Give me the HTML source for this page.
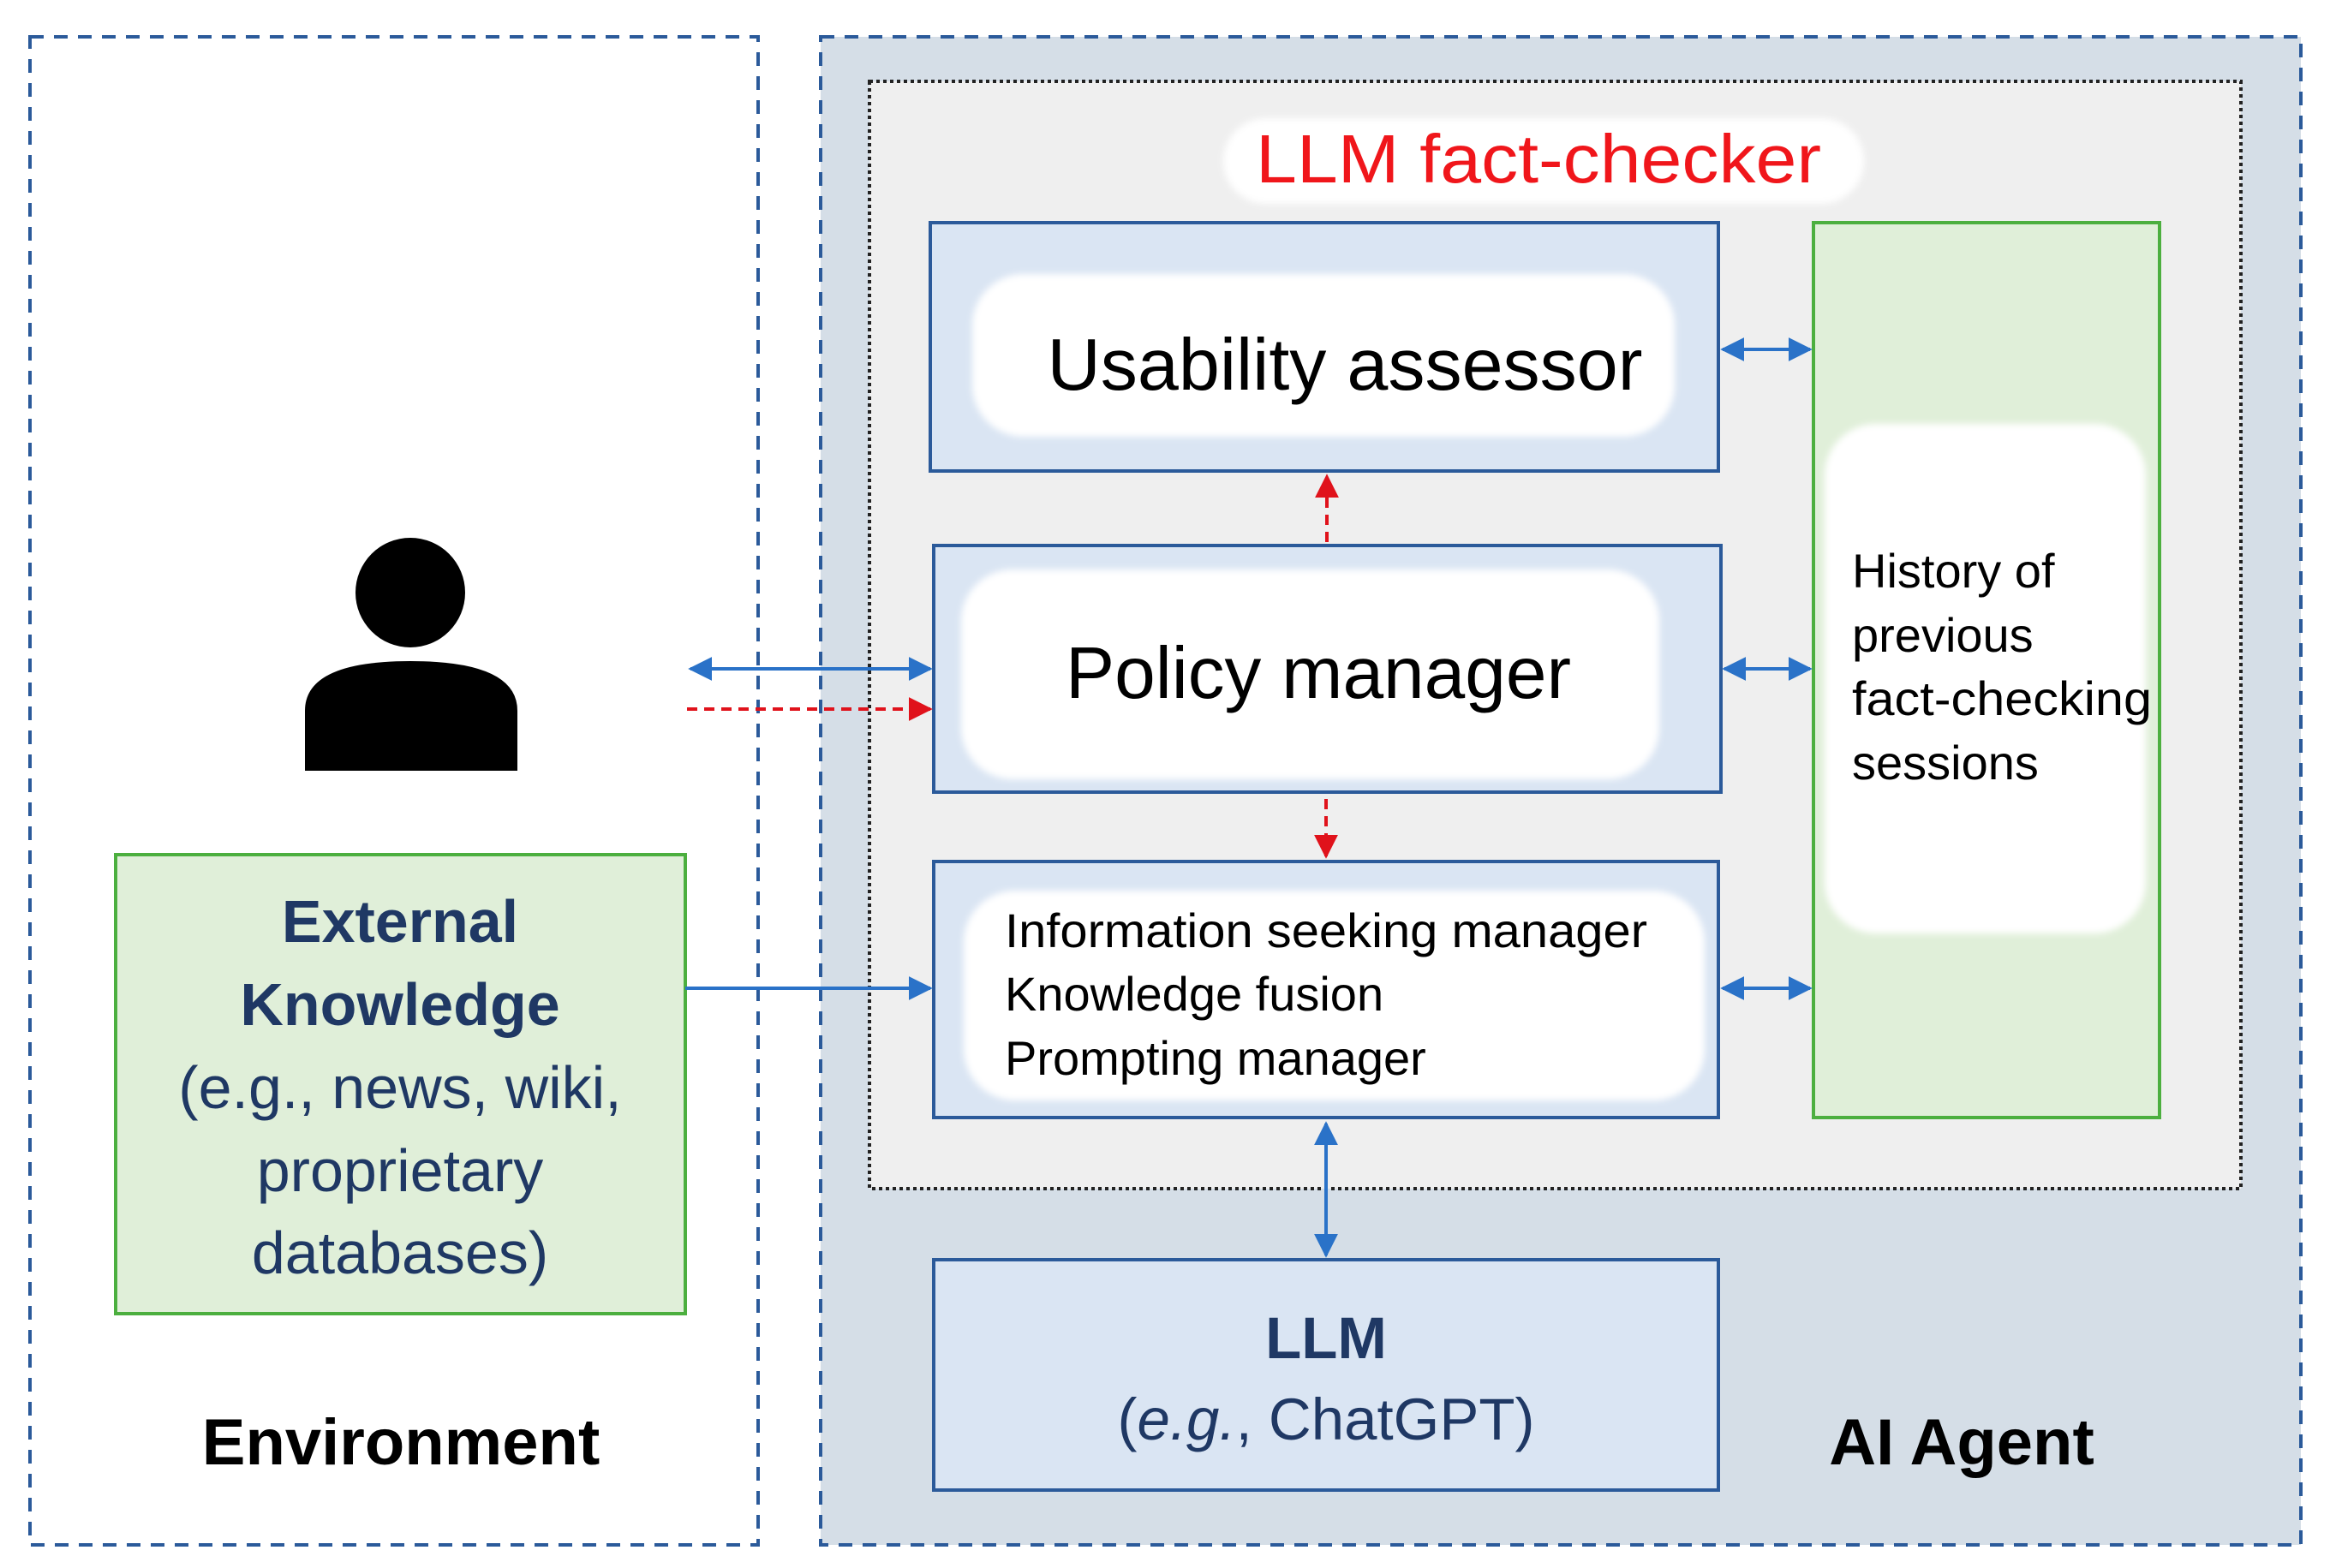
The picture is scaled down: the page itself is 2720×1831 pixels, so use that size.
<!DOCTYPE html>
<html><head><meta charset="utf-8"><style>
html,body{margin:0;padding:0;background:#fff;}
svg{display:block}
text{font-family:"Liberation Sans",sans-serif}
</style></head><body>
<svg width="2720" height="1831" viewBox="0 0 2720 1831" xmlns="http://www.w3.org/2000/svg">
<defs>
<marker id="ab" viewBox="0 0 10 10" refX="9" refY="5" markerWidth="7" markerHeight="7" orient="auto-start-reverse"><path d="M0,0L10,5L0,10z" fill="#2a72c8"/></marker>
<marker id="ar" viewBox="0 0 10 10" refX="9" refY="5" markerWidth="7" markerHeight="7" orient="auto-start-reverse"><path d="M0,0L10,5L0,10z" fill="#e0121b"/></marker>
<filter id="bl"><feGaussianBlur stdDeviation="4"/></filter>
</defs>
<rect x="35" y="43" width="850" height="1761" fill="#fff" stroke="#2b5a9a" stroke-width="4" stroke-dasharray="16,12"/>
<rect x="958" y="43" width="1728" height="1761" fill="#d5dee7" stroke="#2b5a9a" stroke-width="4" stroke-dasharray="16,12"/>
<rect x="1015" y="95" width="1601" height="1293" fill="#efefef" stroke="#222" stroke-width="4" stroke-dasharray="4,4"/>
<rect x="1428" y="138" width="748" height="100" rx="50" fill="#fff" filter="url(#bl)"/>
<text x="1796" y="213" font-size="80" fill="#f0161b" text-anchor="middle" textLength="660" lengthAdjust="spacingAndGlyphs">LLM fact-checker</text>
<rect x="1086" y="260" width="920" height="290" fill="#dae5f3" stroke="#2b5a9a" stroke-width="4"/>
<rect x="1135" y="320" width="820" height="190" rx="60" fill="#fff" filter="url(#bl)"/>
<text x="1570" y="455" font-size="85" fill="#000" text-anchor="middle" textLength="695" lengthAdjust="spacingAndGlyphs">Usability assessor</text>
<rect x="1090" y="637" width="919" height="288" fill="#dae5f3" stroke="#2b5a9a" stroke-width="4"/>
<rect x="1122" y="665" width="815" height="245" rx="60" fill="#fff" filter="url(#bl)"/>
<text x="1539" y="815" font-size="85" fill="#000" text-anchor="middle" textLength="590" lengthAdjust="spacingAndGlyphs">Policy manager</text>
<rect x="1090" y="1006" width="916" height="299" fill="#dae5f3" stroke="#2b5a9a" stroke-width="4"/>
<rect x="1125" y="1040" width="865" height="245" rx="60" fill="#fff" filter="url(#bl)"/>
<text font-size="56" fill="#000"><tspan x="1173" y="1106" textLength="750" lengthAdjust="spacingAndGlyphs">Information seeking manager</tspan><tspan x="1173" y="1180">Knowledge fusion</tspan><tspan x="1173" y="1255">Prompting manager</tspan></text>
<rect x="2117" y="260" width="404" height="1045" fill="#e0efd9" stroke="#4caf3f" stroke-width="4"/>
<rect x="2130" y="495" width="375" height="595" rx="60" fill="#fff" filter="url(#bl)"/>
<text font-size="56" fill="#000"><tspan x="2162" y="686">History of</tspan><tspan x="2162" y="761">previous</tspan><tspan x="2162" y="835" textLength="350" lengthAdjust="spacingAndGlyphs">fact-checking</tspan><tspan x="2162" y="910">sessions</tspan></text>
<rect x="1090" y="1471" width="916" height="269" fill="#dae5f3" stroke="#2b5a9a" stroke-width="4"/>
<text x="1548" y="1586" font-size="69" font-weight="bold" fill="#1f3864" text-anchor="middle">LLM</text>
<text x="1548" y="1681" font-size="69" fill="#1f3864" text-anchor="middle">(<tspan font-style="italic">e.g.</tspan>, ChatGPT)</text>
<rect x="135" y="998" width="665" height="536" fill="#e0efd9" stroke="#4caf3f" stroke-width="4"/>
<g font-size="70" fill="#1f3864" text-anchor="middle">
<text x="467" y="1100" font-weight="bold">External</text>
<text x="467" y="1197" font-weight="bold">Knowledge</text>
<text x="467" y="1294">(e.g., news, wiki,</text>
<text x="467" y="1391">proprietary</text>
<text x="467" y="1487">databases)</text>
</g>
<text x="468" y="1710" font-size="76" font-weight="bold" text-anchor="middle">Environment</text>
<text x="2290" y="1710" font-size="76" font-weight="bold" text-anchor="middle">AI Agent</text>
<circle cx="479" cy="692" r="64" fill="#000"/>
<path d="M356,900 L356,830 Q356,772 479,772 Q604,772 604,830 L604,900 Z" fill="#000"/>
<g stroke="#2a72c8" stroke-width="4" fill="none">
<line x1="806" y1="781" x2="1086" y2="781" marker-start="url(#ab)" marker-end="url(#ab)"/>
<line x1="800" y1="1154" x2="1086" y2="1154" marker-end="url(#ab)"/>
<line x1="1548" y1="1312" x2="1548" y2="1466" marker-start="url(#ab)" marker-end="url(#ab)"/>
<line x1="2011" y1="408" x2="2113" y2="408" marker-start="url(#ab)" marker-end="url(#ab)"/>
<line x1="2013" y1="781" x2="2113" y2="781" marker-start="url(#ab)" marker-end="url(#ab)"/>
<line x1="2011" y1="1154" x2="2113" y2="1154" marker-start="url(#ab)" marker-end="url(#ab)"/>
</g>
<g stroke="#e0121b" stroke-width="4" fill="none" stroke-dasharray="12,8">
<line x1="802" y1="828" x2="1086" y2="828" marker-end="url(#ar)"/>
<line x1="1549" y1="633" x2="1549" y2="556" marker-end="url(#ar)"/>
<line x1="1548" y1="933" x2="1548" y2="1000" marker-end="url(#ar)"/>
</g>
</svg>
</body></html>
